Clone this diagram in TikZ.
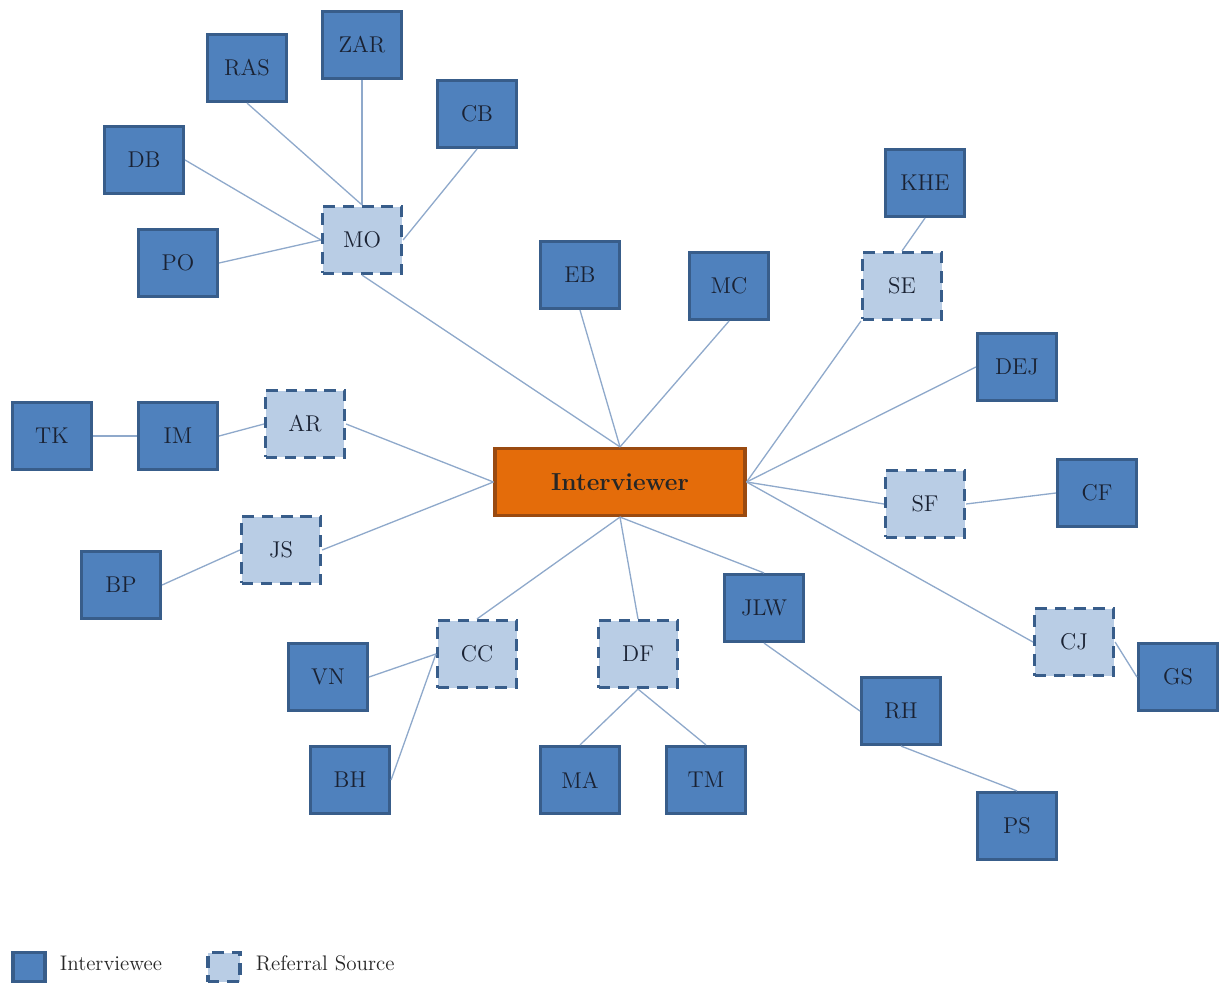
\documentclass[tikz,border=0pt]{standalone}
\usepackage{xcolor}
\usepackage{tikz}
\usetikzlibrary{positioning}

\definecolor{ieFill}{HTML}{4F81BD}
\definecolor{ieDraw}{HTML}{385D8A}
\definecolor{rsFill}{HTML}{B9CDE5}
\definecolor{ivFill}{HTML}{E46C0A}
\definecolor{ivDraw}{HTML}{9A4A10}
\definecolor{linkCol}{HTML}{8FA9CB}
\definecolor{txtCol}{HTML}{1A2233}

\begin{document}
\begin{tikzpicture}[
  x=0.02cm, y=-0.02cm,
  box/.style={draw=ieDraw, line width=1.8pt, minimum width=1.58cm, minimum height=1.34cm,
    inner sep=0pt, font=\fontsize{13}{15}\selectfont, text=txtCol},
  iee/.style={box, fill=ieFill},
  ref/.style={box, fill=rsFill, dash pattern=on 6.5pt off 4.5pt},
  hub/.style={draw=ivDraw, line width=1.8pt, fill=ivFill, minimum width=5.0cm,
    minimum height=1.34cm, font=\fontsize{14}{16}\selectfont\bfseries, text=black!85},
  link/.style={draw=linkCol, line width=0.75pt},
  legbox/.style={draw=ieDraw, line width=1.8pt, minimum width=0.64cm, minimum height=0.58cm, inner sep=0pt},
  legtext/.style={font=\fontsize{12}{14}\selectfont, text=black!85, inner sep=0pt}
]
\useasboundingbox (0,0) rectangle (1222,986);

% centre
\node[hub] (iv) at (620,482) {Interviewer};

% upper left group
\node[ref] (mo) at (362,240) {MO};
\node[iee] (zar) at (362,45) {ZAR};
\node[iee] (ras) at (247,68) {RAS};
\node[iee] (cb) at (477,114) {CB};
\node[iee] (db) at (144,160) {DB};
\node[iee] (po) at (178,263) {PO};

% top
\node[iee] (eb) at (580,275) {EB};
\node[iee] (mc) at (729,286) {MC};

% right side
\node[ref] (se) at (902,286) {SE};
\node[iee] (khe) at (925,183) {KHE};
\node[iee] (dej) at (1017,367) {DEJ};
\node[ref] (sf) at (925,504) {SF};
\node[iee] (cf) at (1097,493) {CF};
\node[ref] (cj) at (1074,642) {CJ};
\node[iee] (gs) at (1178,677) {GS};

% left side
\node[ref] (ar) at (305,424) {AR};
\node[iee] (im) at (178,436) {IM};
\node[iee] (tk) at (52,436) {TK};
\node[ref] (js) at (281,550) {JS};
\node[iee] (bp) at (121,585) {BP};

% bottom
\node[ref] (cc) at (477,654) {CC};
\node[iee] (vn) at (328,677) {VN};
\node[iee] (bh) at (350,780) {BH};
\node[ref] (df) at (638,654) {DF};
\node[iee] (ma) at (580,780) {MA};
\node[iee] (tm) at (706,780) {TM};
\node[iee] (jlw) at (764,608) {JLW};
\node[iee] (rh) at (901,711) {RH};
\node[iee] (ps) at (1017,826) {PS};

% legend
\node[legbox, fill=ieFill] (legA) at (29,967) {};
\node[legtext, anchor=west, right=0.26cm of legA, yshift=0.08cm] (legAtxt) {Interviewee};
\node[legbox, fill=rsFill, dash pattern=on 6.5pt off 4.5pt] (legB) at (224,967) {};
\node[legtext, anchor=west, right=0.28cm of legB, yshift=0.08cm] (legBtxt) {Referral Source};

% links from the interviewer
\draw[link] (iv.north) -- (mo.south);
\draw[link] (iv.north) -- (eb.south);
\draw[link] (iv.north) -- (mc.south);
\draw[link] (iv.east) -- (se.south west);
\draw[link] (iv.east) -- (dej.west);
\draw[link] (iv.east) -- (sf.west);
\draw[link] (iv.east) -- (cj.west);
\draw[link] (iv.west) -- (ar.east);
\draw[link] (iv.west) -- (js.east);
\draw[link] (iv.south) -- (cc.north);
\draw[link] (iv.south) -- (df.north);
\draw[link] (iv.south) -- (jlw.north);

% referral links
\draw[link] (db.east) -- (mo.west);
\draw[link] (po.east) -- (mo.west);
\draw[link] (ras.south) -- (mo.north);
\draw[link] (zar.south) -- (mo.north);
\draw[link] (cb.south) -- (mo.east);
\draw[link] (khe.south) -- (se.north);
\draw[link] (sf.east) -- (cf.west);
\draw[link] (cj.east) -- (gs.west);
\draw[link] (ar.west) -- (im.east);
\draw[link] (im.west) -- (tk.east);
\draw[link] (js.west) -- (bp.east);
\draw[link] (cc.west) -- (vn.east);
\draw[link] (cc.west) -- (bh.east);
\draw[link] (df.south) -- (ma.north);
\draw[link] (df.south) -- (tm.north);
\draw[link] (jlw.south) -- (rh.west);
\draw[link] (rh.south) -- (ps.north);
\end{tikzpicture}
\end{document}
